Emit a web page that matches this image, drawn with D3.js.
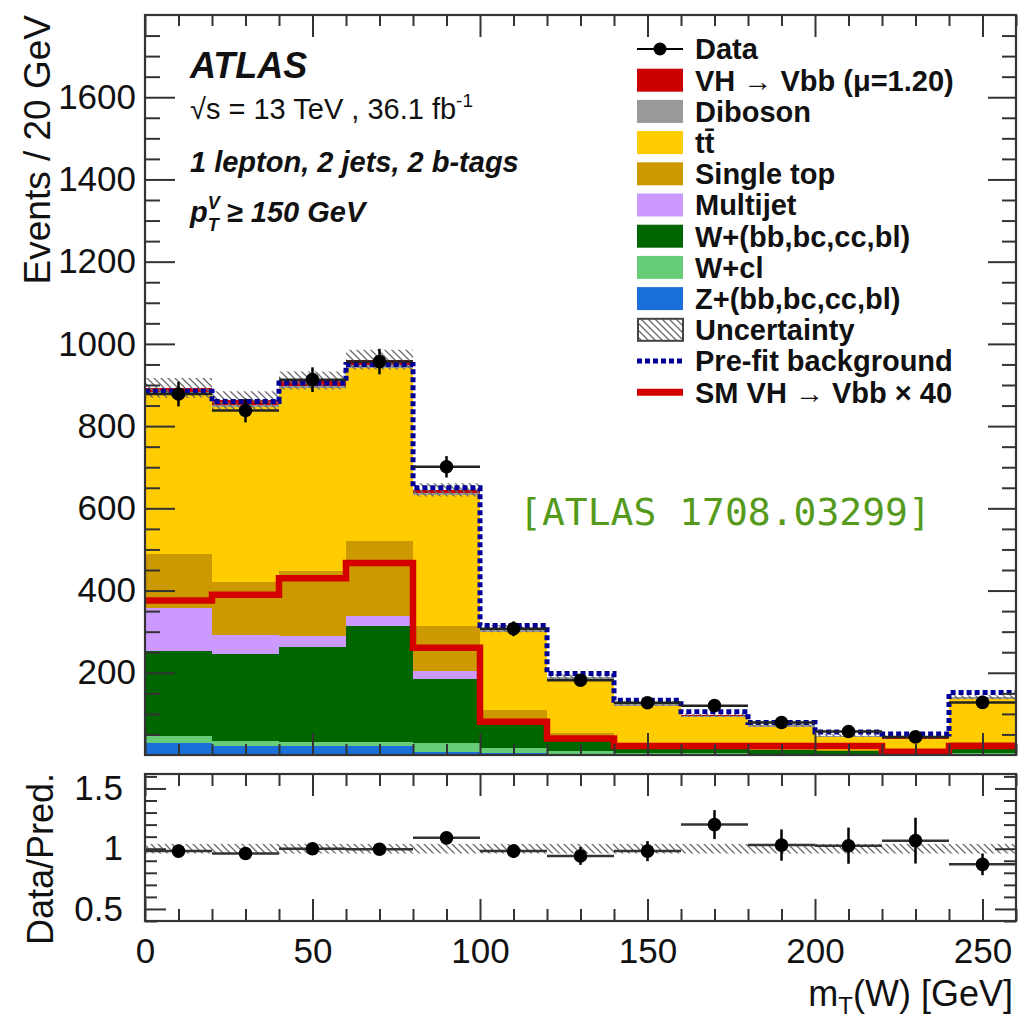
<!DOCTYPE html>
<html>
<head>
<meta charset="utf-8">
<script src="https://cdn.jsdelivr.net/npm/d3@7"></script>
<style>
body { margin: 0; background: #fff; }
svg { display: block; }
text { font-family: "Liberation Sans", Arial, Helvetica, sans-serif; fill: #111; }
</style>
</head>
<body>
<svg id="chart" width="1025" height="1025"></svg>
<script>
// bins of m_T(W), 20 GeV wide (low edges)
var binLow = [0, 20, 40, 60, 80, 100, 120, 140, 160, 180, 200, 220, 240];
var binWidth = 20;

// post-fit stack, bottom to top
var zHF       = [28, 22, 22, 22, 8, 5, 3, 2, 2, 1, 1, 1, 2];
var wCl       = [19, 12, 10, 10, 20, 12, 6, 4, 3, 2, 2, 1, 4];
var wHF       = [206, 211, 230, 283, 158, 64, 24, 14, 10, 8, 6, 4, 14];
var multijet  = [104, 48, 28, 24, 19, 0, 0, 0, 0, 0, 0, 0, 0];
var singleTop = [131, 128, 158, 182, 109, 28, 20, 10, 8, 6, 4, 3, 12];
var ttbar     = [389, 425, 444, 420, 318, 191, 131, 90, 70, 52, 32, 29, 104];
var diboson   = [5, 5, 6, 7, 5, 5, 5, 4, 3, 3, 2, 2, 4];
var vhFit     = [11, 12, 13, 14, 8, 2.4, 1, 0.6, 0.5, 0.4, 0.3, 0.2, 0.6];

var uncert    = [24, 22, 22, 24, 16, 9, 6, 5, 4, 3, 3, 2, 5];
var preFit    = [885, 860, 905, 950, 650, 315, 198, 133, 105, 79, 56, 51, 152];
var smVHx40   = [376, 390, 430, 467, 261, 81, 40, 22, 22, 22, 22, 8, 22];

var data      = [878, 838, 913, 957, 701, 307, 182, 127, 120, 79, 57, 44, 128];
var dataErr   = [30, 29, 30, 31, 26, 18, 13, 11, 11, 9, 8, 7, 11];

var ratio     = [0.98, 0.96, 1.0, 0.995, 1.09, 0.98, 0.94, 0.98, 1.2, 1.03, 1.025, 1.067, 0.87];
var ratioErr  = [0.035, 0.035, 0.035, 0.035, 0.04, 0.057, 0.074, 0.083, 0.12, 0.13, 0.15, 0.19, 0.09];
var ratioUnc  = 0.04;

var yTicks = [200, 400, 600, 800, 1000, 1200, 1400, 1600];
var rTicks = [0.5, 1, 1.5];
var xTicks = [0, 50, 100, 150, 200, 250];

var legendLabels = ["Data", "VH \u2192 Vbb (\u03bc=1.20)", "Diboson", "tt\u0304", "Single top", "Multijet",
  "W+(bb,bc,cc,bl)", "W+cl", "Z+(bb,bc,cc,bl)", "Uncertainty", "Pre-fit background", "SM VH \u2192 Vbb \u00d7 40"];

var colors = {
  z: "#1a6fd8", wcl: "#66cc77", whf: "#006600", mj: "#cc99ff",
  st: "#cc9900", tt: "#ffcc00", db: "#999999", vh: "#cc0000"
};

var svg = d3.select("#chart");
var frame = {left: 145, right: 1016, top: 15, bottom: 755};
var rframe = {top: 774, bottom: 921};

var x = d3.scaleLinear().domain([0, 260]).range([frame.left, frame.right]);
var y = d3.scaleLinear().domain([0, 1800]).range([frame.bottom, frame.top]);
var yr = d3.scaleLinear().domain([0.4, 1.62]).range([rframe.bottom, rframe.top]);

var defs = svg.append("defs");
defs.append("pattern").attr("id", "hatch")
  .attr("patternUnits", "userSpaceOnUse").attr("width", 7).attr("height", 7)
  .append("path").attr("d", "M-1,-1 L8,8 M-1,6 L1,8 M6,-1 L8,1")
  .attr("stroke", "#6a6a6a").attr("stroke-width", 1.3);
defs.append("clipPath").attr("id", "clipMain").append("rect")
  .attr("x", frame.left).attr("y", frame.top)
  .attr("width", frame.right - frame.left).attr("height", frame.bottom - frame.top);
defs.append("clipPath").attr("id", "clipRatio").append("rect")
  .attr("x", frame.left).attr("y", rframe.top)
  .attr("width", frame.right - frame.left).attr("height", rframe.bottom - rframe.top);

// ---------- main panel ----------
var table = binLow.map(function(lo, i) {
  return {lo: lo, z: zHF[i], wcl: wCl[i], whf: wHF[i], mj: multijet[i], st: singleTop[i],
          tt: ttbar[i], db: diboson[i], vh: vhFit[i]};
});
var keys = ["z", "wcl", "whf", "mj", "st", "tt", "db", "vh"];
var series = d3.stack().keys(keys)(table);

var main = svg.append("g").attr("clip-path", "url(#clipMain)");

main.selectAll(".layer").data(series).enter().append("g")
  .attr("class", "layer")
  .attr("fill", function(d) { return colors[d.key]; })
  .selectAll("rect").data(function(d) { return d; }).enter().append("rect")
  .attr("shape-rendering", "crispEdges")
  .attr("x", function(d) { return x(d.data.lo); })
  .attr("width", function(d) { return x(d.data.lo + binWidth) - x(d.data.lo); })
  .attr("y", function(d) { return y(d[1]); })
  .attr("height", function(d) { return Math.max(0, y(d[0]) - y(d[1])); });

function stepPoints(vals) {
  var pts = binLow.map(function(lo, i) { return [lo, vals[i]]; });
  pts.push([binLow[binLow.length - 1] + binWidth, vals[vals.length - 1]]);
  return pts;
}

var totals = series[series.length - 1].map(function(d) { return d[1]; });
var bandPts = binLow.map(function(lo, i) { return {x: lo, lo: totals[i] - uncert[i], hi: totals[i] + uncert[i]}; });
bandPts.push({x: 260, lo: bandPts[bandPts.length - 1].lo, hi: bandPts[bandPts.length - 1].hi});
main.append("path").datum(bandPts)
  .attr("fill", "url(#hatch)")
  .attr("d", d3.area().curve(d3.curveStepAfter)
    .x(function(d) { return x(d.x); })
    .y0(function(d) { return y(d.lo); })
    .y1(function(d) { return y(d.hi); }));

var stepLine = d3.line().curve(d3.curveStepAfter)
  .x(function(d) { return x(d[0]); }).y(function(d) { return y(d[1]); });

main.append("path").datum(stepPoints(smVHx40))
  .attr("fill", "none").attr("stroke", "#d40000").attr("stroke-width", 6.5)
  .attr("d", stepLine);

main.append("path").datum(stepPoints(preFit))
  .attr("fill", "none").attr("stroke", "#000099").attr("stroke-width", 5)
  .attr("stroke-dasharray", "5,3")
  .attr("d", stepLine);

var pts = main.append("g");
binLow.forEach(function(lo, i) {
  var cx = x(lo + binWidth / 2), cy = y(data[i]);
  pts.append("line").attr("x1", x(lo)).attr("x2", x(lo + binWidth)).attr("y1", cy).attr("y2", cy)
    .attr("stroke", "#222").attr("stroke-width", 2.5);
  pts.append("line").attr("x1", cx).attr("x2", cx)
    .attr("y1", y(data[i] - dataErr[i])).attr("y2", y(data[i] + dataErr[i]))
    .attr("stroke", "#000").attr("stroke-width", 2.5);
  pts.append("circle").attr("cx", cx).attr("cy", cy).attr("r", 6.8).attr("fill", "#000");
});

// ---------- ratio panel ----------
var rp = svg.append("g").attr("clip-path", "url(#clipRatio)");
rp.append("rect")
  .attr("x", frame.left).attr("width", frame.right - frame.left)
  .attr("y", yr(1 + ratioUnc)).attr("height", yr(1 - ratioUnc) - yr(1 + ratioUnc))
  .attr("fill", "url(#hatch)");
binLow.forEach(function(lo, i) {
  var cx = x(lo + binWidth / 2), cy = yr(ratio[i]);
  rp.append("line").attr("x1", x(lo)).attr("x2", x(lo + binWidth)).attr("y1", cy).attr("y2", cy)
    .attr("stroke", "#333").attr("stroke-width", 2.5);
  rp.append("line").attr("x1", cx).attr("x2", cx)
    .attr("y1", yr(ratio[i] - ratioErr[i])).attr("y2", yr(ratio[i] + ratioErr[i]))
    .attr("stroke", "#000").attr("stroke-width", 2.5);
  rp.append("circle").attr("cx", cx).attr("cy", cy).attr("r", 6.8).attr("fill", "#000");
});

// ---------- axes (inward ticks on all four sides) ----------
function styleAxis(g) {
  g.select(".domain").remove();
  g.selectAll(".tick line").attr("stroke", "#333").attr("stroke-width", 2);
  g.selectAll(".tick text").attr("fill", "#111").style("font-size", "35px");
}
function range(a, b, s) { return d3.range(a, b + s / 2, s); }

var xMinor = range(10, 260, 10).filter(function(v) { return v % 50 !== 0; });
var yMinor = range(50, 1750, 50).filter(function(v) { return v % 200 !== 0; });
var rMinor = [0.4, 0.6, 0.7, 0.8, 0.9, 1.1, 1.2, 1.3, 1.4, 1.6];

// main panel
svg.append("g").attr("transform", "translate(" + frame.left + ",0)")
  .call(d3.axisLeft(y).tickValues(yTicks).tickSize(-30).tickPadding(9).tickFormat(d3.format("d"))).call(styleAxis);
svg.append("g").attr("transform", "translate(" + frame.left + ",0)")
  .call(d3.axisLeft(y).tickValues(yMinor).tickSize(-15).tickFormat("")).call(styleAxis);
svg.append("g").attr("transform", "translate(" + frame.right + ",0)")
  .call(d3.axisRight(y).tickValues(yTicks).tickSize(-28).tickFormat("")).call(styleAxis);
svg.append("g").attr("transform", "translate(" + frame.right + ",0)")
  .call(d3.axisRight(y).tickValues(yMinor).tickSize(-14).tickFormat("")).call(styleAxis);
svg.append("g").attr("transform", "translate(0," + frame.bottom + ")")
  .call(d3.axisBottom(x).tickValues(xTicks).tickSize(-22).tickFormat("")).call(styleAxis);
svg.append("g").attr("transform", "translate(0," + frame.bottom + ")")
  .call(d3.axisBottom(x).tickValues(xMinor).tickSize(-11).tickFormat("")).call(styleAxis);
svg.append("g").attr("transform", "translate(0," + frame.top + ")")
  .call(d3.axisTop(x).tickValues(xTicks).tickSize(-22).tickFormat("")).call(styleAxis);
svg.append("g").attr("transform", "translate(0," + frame.top + ")")
  .call(d3.axisTop(x).tickValues(xMinor).tickSize(-11).tickFormat("")).call(styleAxis);

// ratio panel
svg.append("g").attr("transform", "translate(" + frame.left + ",0)")
  .call(d3.axisLeft(yr).tickValues(rTicks).tickSize(-21).tickPadding(22).tickFormat(d3.format("~g"))).call(styleAxis);
svg.append("g").attr("transform", "translate(" + frame.left + ",0)")
  .call(d3.axisLeft(yr).tickValues(rMinor).tickSize(-12).tickFormat("")).call(styleAxis);
svg.append("g").attr("transform", "translate(" + frame.right + ",0)")
  .call(d3.axisRight(yr).tickValues(rTicks).tickSize(-21).tickFormat("")).call(styleAxis);
svg.append("g").attr("transform", "translate(" + frame.right + ",0)")
  .call(d3.axisRight(yr).tickValues(rMinor).tickSize(-12).tickFormat("")).call(styleAxis);
svg.append("g").attr("transform", "translate(0," + rframe.bottom + ")")
  .call(d3.axisBottom(x).tickValues(xTicks).tickSize(-22).tickPadding(17).tickFormat(d3.format("d"))).call(styleAxis);
svg.append("g").attr("transform", "translate(0," + rframe.bottom + ")")
  .call(d3.axisBottom(x).tickValues(xMinor).tickSize(-12).tickFormat("")).call(styleAxis);
svg.append("g").attr("transform", "translate(0," + rframe.top + ")")
  .call(d3.axisTop(x).tickValues(xTicks).tickSize(-22).tickFormat("")).call(styleAxis);
svg.append("g").attr("transform", "translate(0," + rframe.top + ")")
  .call(d3.axisTop(x).tickValues(xMinor).tickSize(-12).tickFormat("")).call(styleAxis);

// frames
[[frame.top, frame.bottom], [rframe.top, rframe.bottom]].forEach(function(r) {
  svg.append("rect").attr("x", frame.left).attr("y", r[0])
    .attr("width", frame.right - frame.left).attr("height", r[1] - r[0])
    .attr("fill", "none").attr("stroke", "#333").attr("stroke-width", 2.2);
});

// ---------- axis titles ----------
svg.append("text").attr("transform", "translate(50,15) rotate(-90)")
  .attr("text-anchor", "end").attr("font-size", 37).text("Events / 20 GeV");
svg.append("text").attr("transform", "translate(53,859) rotate(-90)")
  .attr("text-anchor", "middle").attr("font-size", 36).text("Data/Pred.");
var xt = svg.append("text").attr("x", 1013).attr("y", 1006)
  .attr("text-anchor", "end").attr("font-size", 36);
xt.append("tspan").text("m");
xt.append("tspan").attr("font-size", 24).attr("dy", 8).text("T");
xt.append("tspan").attr("dy", -8).text("(W) [GeV]");

// ---------- ATLAS labels ----------
svg.append("text").attr("x", 190).attr("y", 78).attr("font-size", 36)
  .attr("font-weight", "bold").attr("font-style", "italic").text("ATLAS");
var s1 = svg.append("text").attr("x", 190).attr("y", 119).attr("font-size", 29);
s1.append("tspan").text("\u221as = 13 TeV , 36.1 fb");
s1.append("tspan").attr("font-size", 19).attr("dy", -12).text("-1");
svg.append("text").attr("x", 190).attr("y", 172).attr("font-size", 29)
  .attr("font-weight", "bold").attr("font-style", "italic").text("1 lepton, 2 jets, 2 b-tags");
var pt = svg.append("text").attr("x", 190).attr("y", 222).attr("font-size", 29)
  .attr("font-weight", "bold").attr("font-style", "italic");
pt.append("tspan").text("p");
pt.append("tspan").attr("font-size", 18).attr("dy", -13).text("V");
pt.append("tspan").attr("font-size", 18).attr("dx", -12).attr("dy", 22).text("T");
pt.append("tspan").attr("dy", -9).text(" \u2265 150 GeV");

// ---------- legend ----------
var legendKinds = ["data", "vh", "db", "tt", "st", "mj", "whf", "wcl", "z", "unc", "pre", "sm"];
var leg = svg.append("g");
legendLabels.forEach(function(lab, i) {
  var cy = 49 + i * 31.2, kind = legendKinds[i];
  var row = leg.append("g");
  if (kind === "data") {
    row.append("line").attr("x1", 637).attr("x2", 683).attr("y1", cy).attr("y2", cy)
      .attr("stroke", "#000").attr("stroke-width", 2);
    row.append("circle").attr("cx", 660).attr("cy", cy).attr("r", 6.5).attr("fill", "#000");
  } else if (kind === "unc") {
    row.append("rect").attr("x", 638).attr("y", cy - 11).attr("width", 45).attr("height", 22)
      .attr("fill", "url(#hatch)").attr("stroke", "#444").attr("stroke-width", 2);
  } else if (kind === "pre") {
    row.append("line").attr("x1", 637).attr("x2", 683).attr("y1", cy).attr("y2", cy)
      .attr("stroke", "#000099").attr("stroke-width", 5).attr("stroke-dasharray", "5,3");
  } else if (kind === "sm") {
    row.append("line").attr("x1", 637).attr("x2", 683).attr("y1", cy).attr("y2", cy)
      .attr("stroke", "#d40000").attr("stroke-width", 7);
  } else {
    row.append("rect").attr("x", 637).attr("y", cy - 11.5).attr("width", 46).attr("height", 23)
      .attr("fill", colors[kind]);
  }
  row.append("text").attr("x", 695).attr("y", cy).attr("dy", "0.36em")
    .attr("font-size", 29).attr("font-weight", "bold").text(lab);
});

// ---------- reference tag ----------
svg.append("text").attr("x", 519).attr("y", 525)
  .style("font-family", "'DejaVu Sans Mono', 'Liberation Mono', monospace").style("font-size", "38px")
  .style("fill", "#559a1b").text("[ATLAS 1708.03299]");
</script>
</body>
</html>
